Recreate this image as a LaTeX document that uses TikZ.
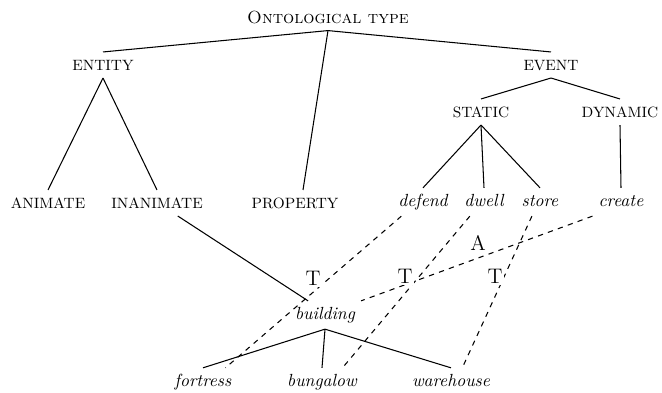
\documentclass[tikz,border=0pt]{standalone}
\usepackage{tikz}
\usetikzlibrary{positioning,calc}

\begin{document}
\begin{tikzpicture}[
    cat/.style={font=\fontsize{8.5}{10}\selectfont, text height=1.6ex, text depth=.2ex},
    word/.style={font=\itshape, text height=1.6ex, text depth=.5ex},
    qual/.style={font=\large, fill=white, inner sep=1pt},
    link/.style={line width=0.6pt},
    qlink/.style={line width=0.6pt, dashed}
]
    \useasboundingbox (0,0) rectangle (13.24,7.86);

    % upper levels
    \node (root) at (6.56, 7.50) {\textsc{Ontological type}};
    \node[cat] (entity) at (2.06, 6.56) {ENTITY};
    \node[cat] (event) at (11.02, 6.56) {EVENT};
    \node[cat] (static) at (9.62, 5.62) {STATIC};
    \node[cat] (dynamic) at (12.40, 5.62) {DYNAMIC};

    % third row
    \node[cat] (animate) at (0.96, 3.80) {ANIMATE};
    \node[cat] (inanimate) at (3.14, 3.80) {INANIMATE};
    \node[cat] (property) at (5.90, 3.80) {PROPERTY};
    \node[word] (defend) at (8.46, 3.82) {defend};
    \node[word] (dwell) at (9.68, 3.82) {dwell};
    \node[word] (store) at (10.80, 3.82) {store};
    \node[word] (create) at (12.42, 3.82) {create};

    % building and its kinds
    \node[word] (building) at (6.50, 1.56) {building};
    \node[word] (fortress) at (4.06, 0.22) {fortress};
    \node[word] (bungalow) at (6.44, 0.22) {bungalow};
    \node[word] (warehouse) at (9.02, 0.22) {warehouse};

    % tree
    \draw[link] (root.south) -- (entity.north);
    \draw[link] (root.south) -- ($(property.north)+(0.16,0)$);
    \draw[link] (root.south) -- (event.north);
    \draw[link] (entity.south) -- (animate.north);
    \draw[link] (entity.south) -- (inanimate.north);
    \draw[link] (event.south) -- (static.north);
    \draw[link] (event.south) -- (dynamic.north);
    \draw[link] (static.south) -- (defend.north);
    \draw[link] (static.south) -- (dwell.north);
    \draw[link] (static.south) -- (store.north);
    \draw[link] (dynamic.south) -- (create.north);
    \draw[link] ($(inanimate.south)!0.4!(inanimate.south east)$) -- ($(building.north)!0.47!(building.north west)$);
    \draw[link] (building.south) -- (fortress.north);
    \draw[link] (building.south) -- (bungalow.north);
    \draw[link] (building.south) -- (warehouse.north);

    % qualia links
    \draw[qlink] ($(defend.south)!0.7!(defend.south west)$) -- ($(fortress.north)!0.65!(fortress.north east)$);
    \draw[qlink] ($(dwell.south)!0.55!(dwell.south west)$) -- ($(bungalow.north)!0.5!(bungalow.north east)$);
    \draw[qlink] ($(store.south)!0.33!(store.south west)$) -- ($(warehouse.north)!0.25!(warehouse.north east)$);
    \draw[qlink] (create.south west) -- (building.north east);

    \node[qual] (agent) at (9.56, 3.00) {A};
    \node[qual] (telic1) at (6.26, 2.30) {T};
    \node[qual] (telic2) at (8.10, 2.34) {T};
    \node[qual] (telic3) at (9.90, 2.34) {T};
\end{tikzpicture}
\end{document}
